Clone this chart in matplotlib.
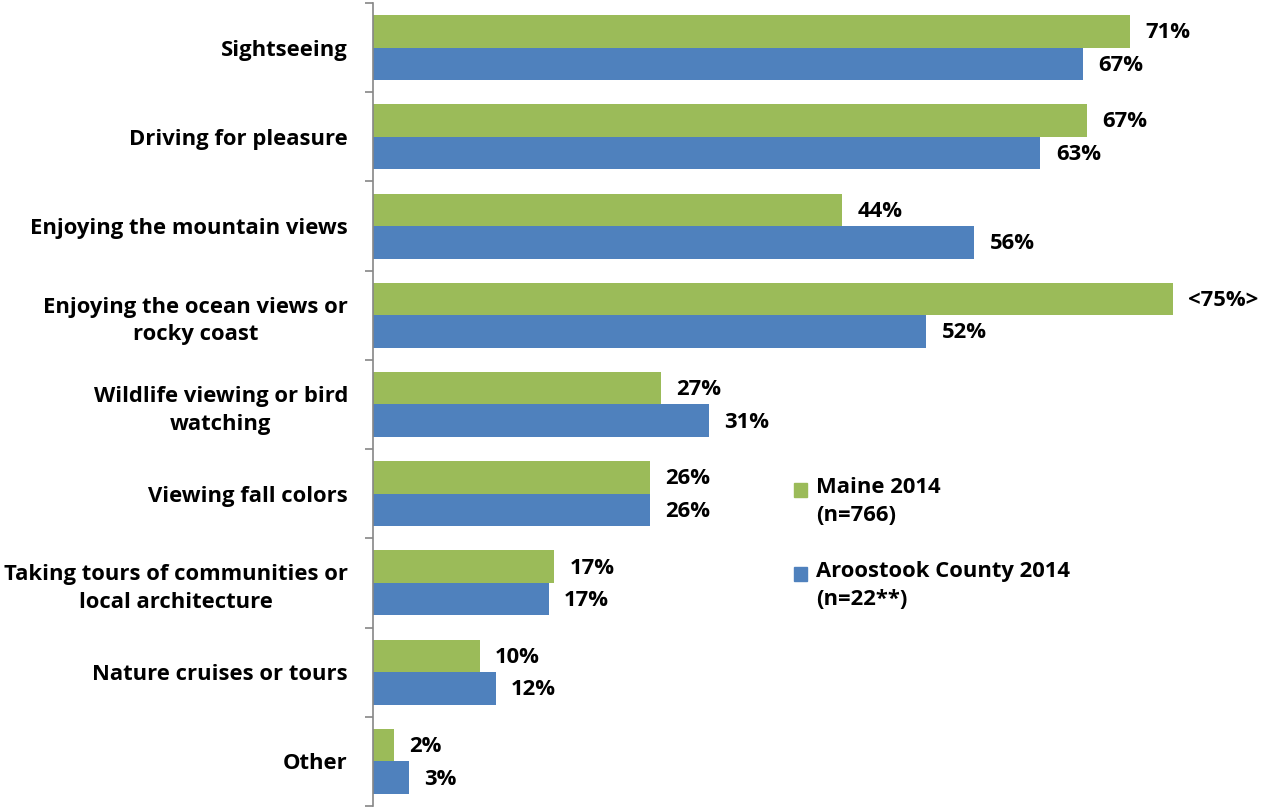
import matplotlib
matplotlib.use("Agg")
import matplotlib.pyplot as plt
from matplotlib.patches import Rectangle
import numpy as np

categories = ["Sightseeing", "Driving for pleasure", "Enjoying the mountain views",
              "Enjoying the ocean views or\nrocky coast", "Wildlife viewing or bird\nwatching",
              "Viewing fall colors", "Taking tours of communities or\nlocal architecture",
              "Nature cruises or tours", "Other"]
maine = [71, 67, 44, 75, 27, 26, 17, 10, 2]
maine_labels = ["71%", "67%", "44%", "<75%>", "27%", "26%", "17%", "10%", "2%"]
aroostook = [66.6, 62.6, 56.4, 51.9, 31.5, 26.0, 16.5, 11.5, 3.35]
aroostook_labels = ["67%", "63%", "56%", "52%", "31%", "26%", "17%", "12%", "3%"]
series_names = ["Maine 2014\n(n=766)", "Aroostook County 2014\n(n=22**)"]

GREEN = "#9BBB59"
BLUE = "#4F81BD"
FONT = ["Open Sans", "DejaVu Sans"]
FS = 15.8
plt.rcParams['font.family'] = FONT
plt.rcParams['font.weight'] = 'bold'

W, H = 1262, 808
fig = plt.figure(figsize=(W / 100, H / 100), dpi=100)
ax = fig.add_axes([373 / W, 2 / H, 885 / W, 803 / H])

y = np.arange(len(categories))
h = 0.364
ax.barh(y - h / 2, maine, height=h, color=GREEN)
ax.barh(y + h / 2, aroostook, height=h, color=BLUE)
ax.set_xlim(0, 83)
ax.set_ylim(len(categories) - 0.5, -0.5)

for i, (v, lab) in enumerate(zip(maine, maine_labels)):
    ax.annotate(lab, (v, i - h / 2), xytext=(11, -1), textcoords="offset points",
                va="center", ha="left", fontsize=FS, fontweight="bold")
for i, (v, lab) in enumerate(zip(aroostook, aroostook_labels)):
    ax.annotate(lab, (v, i + h / 2), xytext=(11, -1), textcoords="offset points",
                va="center", ha="left", fontsize=FS, fontweight="bold")

for s in ["top", "right", "bottom"]:
    ax.spines[s].set_visible(False)
ax.spines["left"].set_color("#868686")
ax.spines["left"].set_linewidth(1.2)
ax.set_xticks([])
ax.set_yticks(y)
ax.set_yticklabels(categories, fontsize=FS, fontweight="bold", multialignment="center",
                   linespacing=1.42)
ax.tick_params(axis="y", which="major", length=0, pad=18)
ax.set_yticks(np.arange(len(categories) + 1) - 0.5, minor=True)
ax.tick_params(axis="y", which="minor", length=6, width=1.2, color="#868686", direction="out")

# legend
for k, (name, col) in enumerate(zip(series_names, [GREEN, BLUE])):
    top = 483 + k * 84
    fig.patches.append(Rectangle((794 / W, 1 - (top + 14) / H), 13 / W, 14 / H,
                                 transform=fig.transFigure, color=col))
    fig.text(816 / W, 1 - (top - 6) / H, name, ha="left", va="top", fontsize=FS,
             fontweight="bold", linespacing=1.42)

fig.savefig("out.png", dpi=100)
